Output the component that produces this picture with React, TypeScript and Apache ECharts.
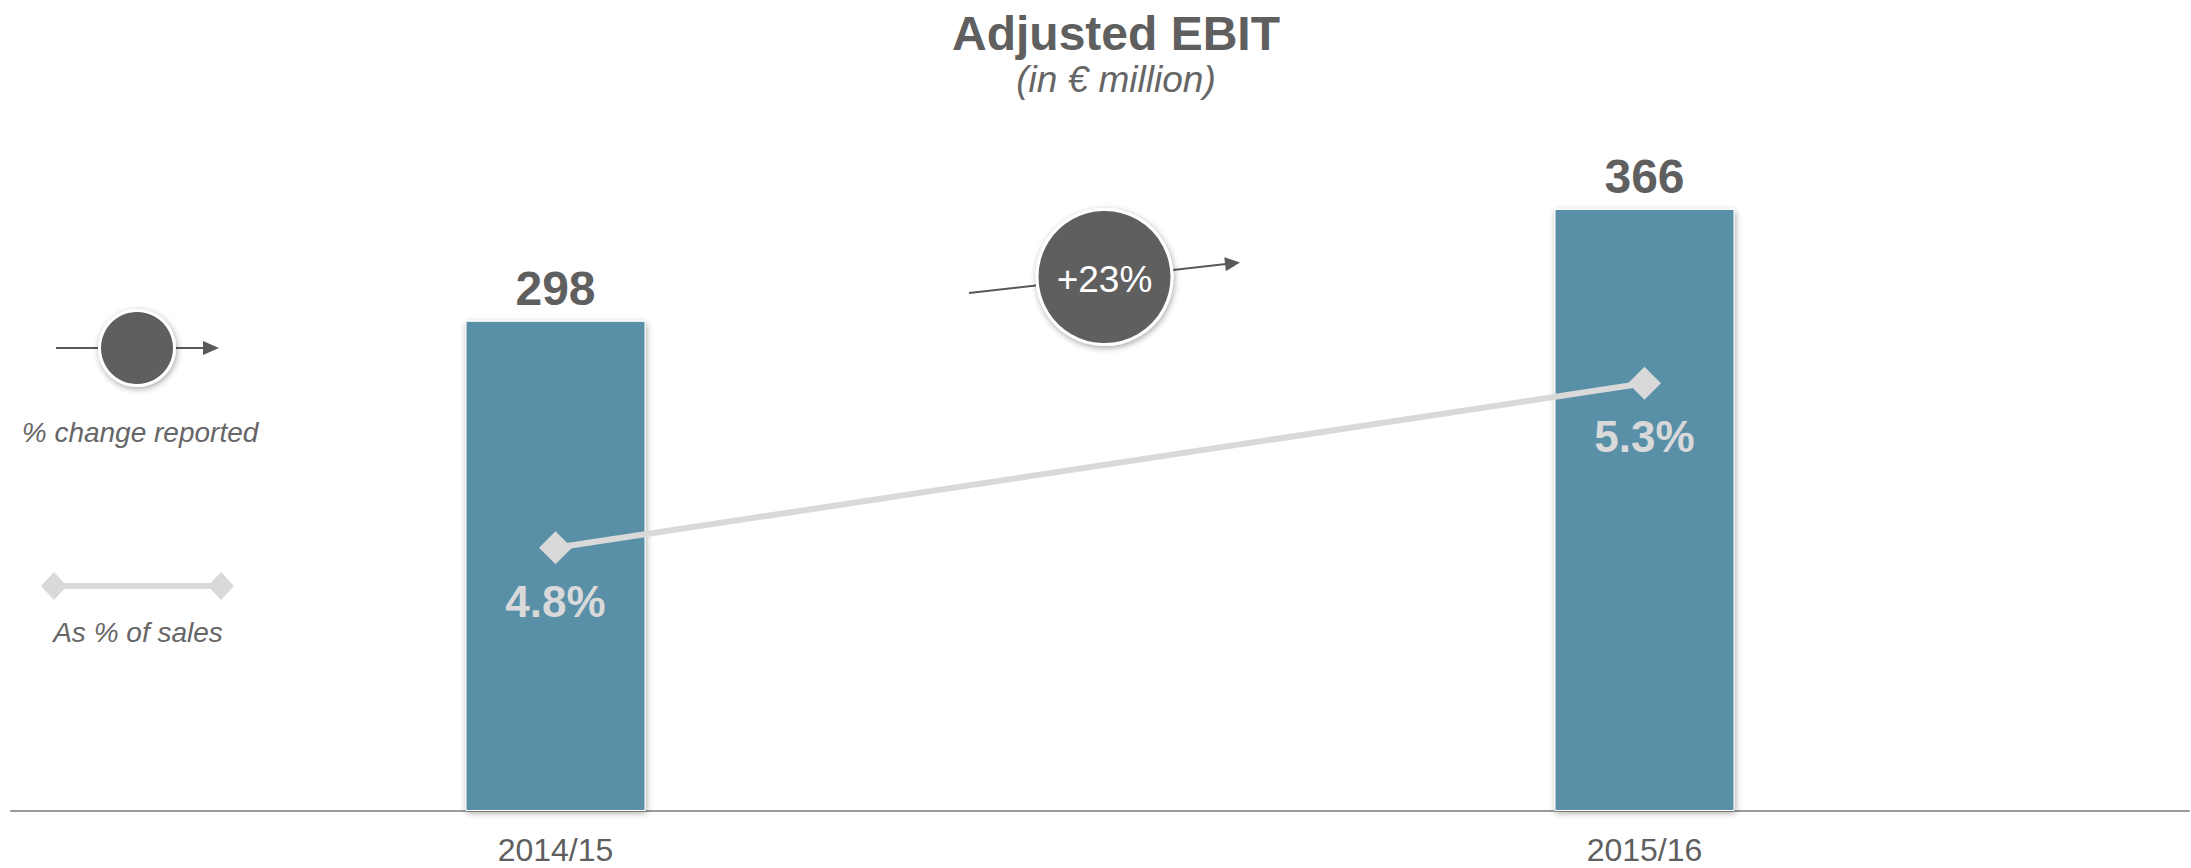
import React, { useEffect, useRef } from "react";
import * as echarts from "echarts";

const categories = ["2014/15", "2015/16"];
const ebitValues = [298, 366];
const marginValues = [4.8, 5.3];
const titleText = "Adjusted EBIT";
const subtitleText = "(in € million)";
const legendChangeText = "% change reported";
const legendMarginText = "As % of sales";

const FONT = "'Liberation Sans', Arial, Helvetica, sans-serif";
const DARK = "#5f5f5f";
const LIGHT = "#d9d9d9";
const BAR = "#5a8fa8";

export default function App() {
  const ref = useRef<HTMLDivElement>(null);

  useEffect(() => {
    if (!ref.current) return;
    const chart = echarts.init(ref.current, undefined, { renderer: "svg" });
    const change = Math.round((ebitValues[1] / ebitValues[0] - 1) * 100);
    const changeText = (change >= 0 ? "+" : "") + change + "%";

    // arrow geometry for the change annotation
    const a0 = [969, 293];
    const tip = [1240, 262.5];
    const dx = tip[0] - a0[0];
    const dy = tip[1] - a0[1];
    const len = Math.sqrt(dx * dx + dy * dy);
    const ux = dx / len;
    const uy = dy / len;
    const hl = 15;
    const hw = 7;
    const bx = tip[0] - hl * ux;
    const by = tip[1] - hl * uy;
    const nx = -uy;
    const ny = ux;

    const shadow = { shadowBlur: 6, shadowColor: "rgba(0,0,0,0.35)", shadowOffsetX: 1, shadowOffsetY: 2 };

    chart.setOption({
      animation: false,
      backgroundColor: "#ffffff",
      textStyle: { fontFamily: FONT },
      title: [
        {
          text: titleText,
          left: 1111,
          top: 4,
          textAlign: "center",
          textStyle: { fontFamily: FONT, fontSize: 48, fontWeight: "bold", color: DARK },
        },
        {
          text: subtitleText,
          left: 1111,
          top: 56,
          textAlign: "center",
          textStyle: { fontFamily: FONT, fontSize: 37, fontStyle: "italic", fontWeight: "normal", color: "#666666" },
        },
      ],
      grid: { left: 11, right: 2, top: 153, bottom: 57, containLabel: false },
      xAxis: {
        type: "category",
        data: categories,
        axisLine: { show: true, lineStyle: { color: "#9a9a9a", width: 2 } },
        axisTick: { show: false },
        axisLabel: { fontFamily: FONT, fontSize: 32, color: DARK, margin: 23 },
        splitLine: { show: false },
      },
      yAxis: [
        { type: "value", min: 0, max: 400, show: false, splitLine: { show: false } },
        { type: "value", min: 4, max: 6, show: false, splitLine: { show: false } },
      ],
      series: [
        {
          type: "bar",
          data: ebitValues,
          barWidth: 180,
          itemStyle: { color: BAR, borderColor: "#ffffff", borderWidth: 1, ...shadow },
          label: {
            show: true,
            position: "top",
            distance: 8,
            fontFamily: FONT,
            fontSize: 48,
            fontWeight: "bold",
            color: DARK,
          },
          z: 2,
        },
        {
          type: "line",
          yAxisIndex: 1,
          data: marginValues,
          symbol: "diamond",
          symbolSize: 33,
          lineStyle: { color: LIGHT, width: 6 },
          itemStyle: { color: LIGHT },
          label: {
            show: true,
            position: "bottom",
            distance: 15,
            fontFamily: FONT,
            fontSize: 44,
            fontWeight: "bold",
            color: LIGHT,
            formatter: (p: any) => p.value.toFixed(1) + "%",
          },
          z: 5,
        },
      ],
      graphic: [
        // legend: % change reported
        {
          type: "line",
          shape: { x1: 56, y1: 348, x2: 205, y2: 348 },
          style: { stroke: "#595959", lineWidth: 2 },
          z: 10,
        },
        {
          type: "polygon",
          shape: { points: [[203, 341], [219, 348], [203, 355]] },
          style: { fill: "#595959" },
          z: 10,
        },
        {
          type: "circle",
          shape: { cx: 137, cy: 348, r: 37.5 },
          style: { fill: DARK, stroke: "#ffffff", lineWidth: 3, ...shadow },
          z: 11,
        },
        {
          type: "text",
          x: 140,
          y: 432,
          style: {
            text: legendChangeText,
            fontFamily: FONT,
            fontSize: 28,
            fontStyle: "italic",
            fill: "#666666",
            align: "center",
            verticalAlign: "middle",
          },
          z: 10,
        },
        // legend: As % of sales
        {
          type: "line",
          shape: { x1: 54, y1: 586, x2: 221, y2: 586 },
          style: { stroke: LIGHT, lineWidth: 6 },
          z: 10,
        },
        {
          type: "polygon",
          shape: { points: [[54, 572], [67, 586], [54, 600], [41, 586]] },
          style: { fill: LIGHT },
          z: 11,
        },
        {
          type: "polygon",
          shape: { points: [[221, 572], [234, 586], [221, 600], [208, 586]] },
          style: { fill: LIGHT },
          z: 11,
        },
        {
          type: "text",
          x: 138,
          y: 632,
          style: {
            text: legendMarginText,
            fontFamily: FONT,
            fontSize: 28,
            fontStyle: "italic",
            fill: "#666666",
            align: "center",
            verticalAlign: "middle",
          },
          z: 10,
        },
        // change annotation
        {
          type: "line",
          shape: { x1: a0[0], y1: a0[1], x2: bx + ux, y2: by + uy },
          style: { stroke: "#595959", lineWidth: 2 },
          z: 10,
        },
        {
          type: "polygon",
          shape: {
            points: [
              [tip[0], tip[1]],
              [bx + hw * nx, by + hw * ny],
              [bx - hw * nx, by - hw * ny],
            ],
          },
          style: { fill: "#595959" },
          z: 10,
        },
        {
          type: "circle",
          shape: { cx: 1104.5, cy: 277, r: 67.5 },
          style: { fill: DARK, stroke: "#ffffff", lineWidth: 3, ...shadow },
          z: 11,
        },
        {
          type: "text",
          x: 1104.5,
          y: 279,
          style: {
            text: changeText,
            fontFamily: FONT,
            fontSize: 37,
            fill: "#ffffff",
            align: "center",
            verticalAlign: "middle",
          },
          z: 12,
        },
      ],
    });

    return () => chart.dispose();
  }, []);

  return (
    <div
      ref={ref}
      style={{ position: "absolute", left: 0, top: 0, width: 2191, height: 868, background: "#ffffff" }}
    />
  );
}
